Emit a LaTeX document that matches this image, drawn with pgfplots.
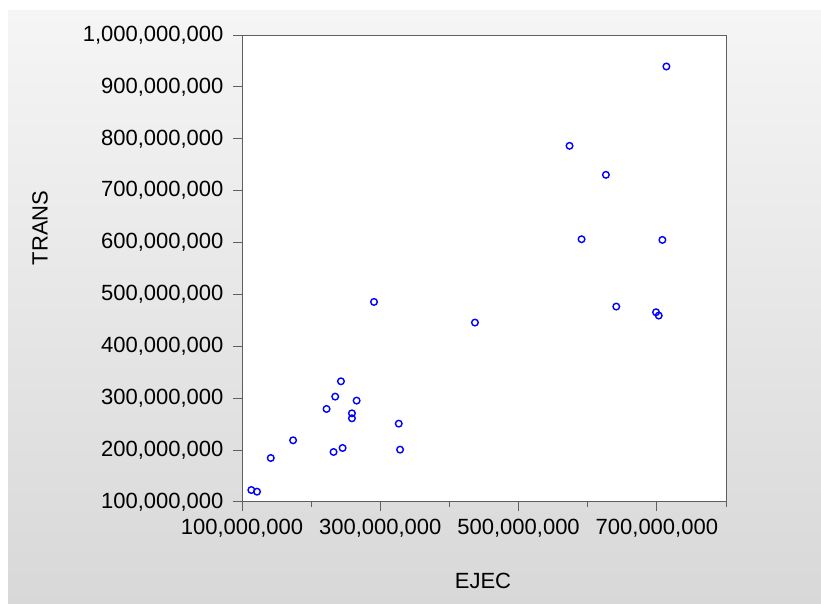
\documentclass[border=0pt]{standalone}
\usepackage{pgfplots}
\pgfplotsset{compat=1.18}
\usepackage{fontspec}
\setmainfont{Liberation Sans}
\definecolor{bgtop}{RGB}{245,245,245}
\definecolor{bgbot}{RGB}{216,216,216}
\definecolor{axgray}{RGB}{95,95,95}
\begin{document}
\begin{tikzpicture}[x=1pt,y=1pt]
\useasboundingbox (0,0) rectangle (821,604);
\fill[white] (0,0) rectangle (821,604);
\shade[top color=bgtop,bottom color=bgbot] (8,0) rectangle (821,593);
\begin{axis}[
  at={(242pt,102pt)}, anchor=south west,
  scale only axis, width=484pt, height=467pt,
  xmin=100000000, xmax=800000000,
  ymin=100000000, ymax=1000000000,
  scaled ticks=false,
  axis background/.style={fill=white},
  axis line style={axgray, line width=1pt},
  tick style={axgray, line width=1pt},
  tick align=outside,
  xtick pos=bottom, ytick pos=left,
  xtick={100000000,300000000,500000000,700000000},
  minor xtick={200000000,400000000,600000000,800000000},
  xticklabels={{100,000,000},{300,000,000},{500,000,000},{700,000,000}},
  ytick={100000000,200000000,300000000,400000000,500000000,600000000,700000000,800000000,900000000,1000000000},
  yticklabels={{100,000,000},{200,000,000},{300,000,000},{400,000,000},{500,000,000},{600,000,000},{700,000,000},{800,000,000},{900,000,000},{1,000,000,000}},
  major tick length=9pt, minor tick length=5pt,
  ticklabel style={font=\fontsize{22}{26}\selectfont, text=black},
  xticklabel style={yshift=-5pt},
  yticklabel style={xshift=-6pt},
]
\addplot[only marks, mark=o, mark size=3.3pt, blue, mark options={line width=1.4pt}] coordinates {
(713800000,939300000)
(573700000,786400000)
(626300000,730500000)
(591100000,606400000)
(708000000,605100000)
(290900000,485600000)
(436900000,445800000)
(641300000,476600000)
(698800000,465700000)
(702700000,459300000)
(243100000,332600000)
(234800000,303100000)
(265800000,295400000)
(222300000,279300000)
(259000000,270900000)
(259000000,261300000)
(326700000,251000000)
(173900000,218900000)
(245500000,204100000)
(232400000,196400000)
(328600000,200900000)
(141600000,184800000)
(113500000,123100000)
(121700000,119900000)
};
\end{axis}
\node[rotate=90, font=\fontsize{22}{26}\selectfont] at (40,376) {TRANS};
\node[font=\fontsize{22}{26}\selectfont] at (483,23) {EJEC};
\end{tikzpicture}
\end{document}
